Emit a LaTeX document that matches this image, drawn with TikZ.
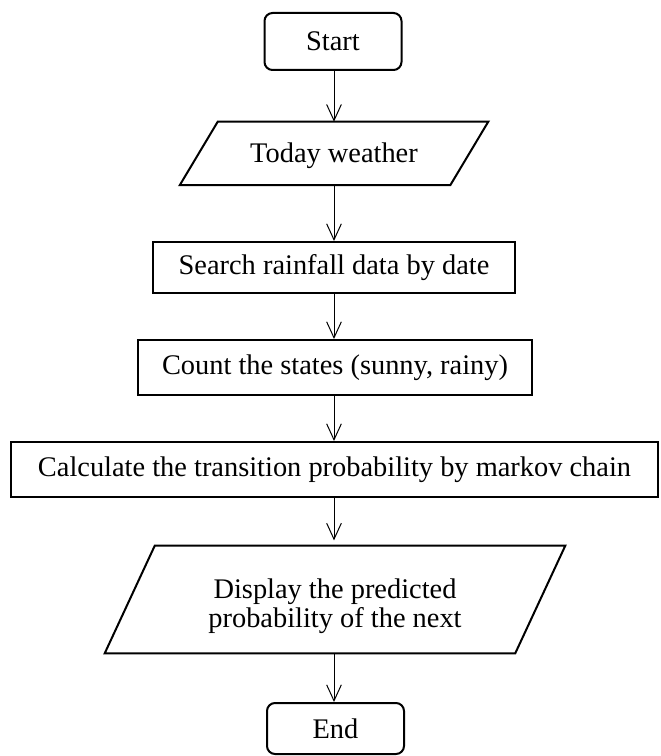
\documentclass[tikz,border=0pt]{standalone}
\usepackage{fontspec}
\setmainfont{Liberation Serif}
\usetikzlibrary{arrows.meta}
\begin{document}
\begin{tikzpicture}[x=0.75pt,y=-0.75pt,
  every node/.style={font=\fontsize{21.3}{26}\selectfont, inner sep=0pt, align=center},
  terminal/.style={draw, line width=1.5pt, rounded corners=6pt},
  process/.style={draw, line width=1.5pt},
  iobox/.style={},
  flow/.style={line width=0.75pt, -{Straight Barb[length=12pt,width=11pt,line width=0.75pt]}}
]
\useasboundingbox (0,0) rectangle (660,756);

% terminals
\node[terminal, minimum width=137*0.75pt, minimum height=57*0.75pt] (start) at (333,41.5) {Start};
\node[terminal, minimum width=137*0.75pt, minimum height=51*0.75pt] (end) at (335.5,728.5) {End};

% input / output parallelograms (text nodes, outlines drawn from their corners)
\node[iobox, minimum width=270*0.75pt, minimum height=63*0.75pt] (today) at (334,156) {Today weather};
\draw[line width=1.5pt]
  ([xshift=19*0.75pt,yshift=1.9pt]today.north west) -- ([xshift=19*0.75pt,yshift=1.9pt]today.north east)
  -- ([xshift=-19*0.75pt,yshift=1.9pt]today.south east) -- ([xshift=-19*0.75pt,yshift=1.9pt]today.south west) -- cycle;

\node[iobox, minimum width=410*0.75pt, minimum height=107*0.75pt] (display) at (335,599.5) {};
\node (displaytext) at ([yshift=-5pt]display.center)
  {Display the predicted\\[-4pt]probability of the next};
\draw[line width=1.5pt]
  ([xshift=25*0.75pt]display.north west) -- ([xshift=25*0.75pt]display.north east)
  -- ([xshift=-25*0.75pt]display.south east) -- ([xshift=-25*0.75pt]display.south west) -- cycle;

% processes
\node[process, minimum width=362*0.75pt, minimum height=51*0.75pt] (search) at (334,267.5) {Search rainfall data by date};
\node[process, minimum width=394*0.75pt, minimum height=55*0.75pt] (count) at (335,367.5) {Count the states (sunny, rainy)};
\node[process, minimum width=647*0.75pt, minimum height=55*0.75pt] (calc) at (334.5,469.5) {Calculate the transition probability by markov chain};

% connectors
\draw[flow] (start.south -| 334,0) -- ([yshift=1.9pt]today.north -| 334,0);
\draw[flow] ([yshift=1.9pt]today.south -| 334,0) -- (search.north -| 334,0);
\draw[flow] (search.south -| 334,0) -- (count.north -| 334,0);
\draw[flow] (count.south -| 334,0) -- (calc.north -| 334,0);
\draw[flow] (calc.south -| 334,0) -- ([yshift=4pt]display.north -| 334,0);
\draw[flow] (display.south -| 334,0) -- (end.north -| 334,0);
\end{tikzpicture}
\end{document}
